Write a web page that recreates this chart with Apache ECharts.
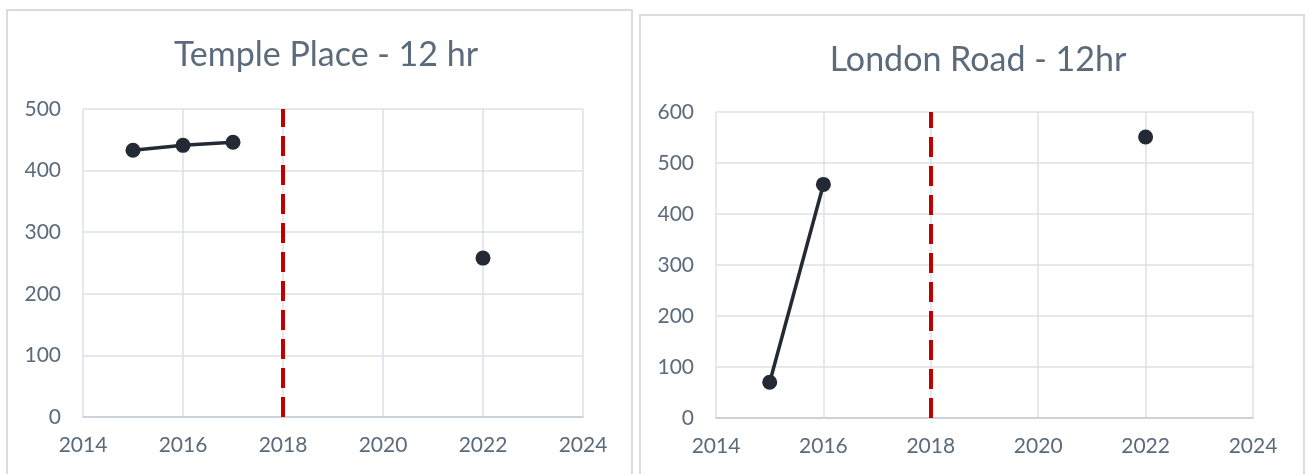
<!DOCTYPE html>
<html>
<head>
<meta charset="utf-8">
<script src="https://cdn.jsdelivr.net/npm/echarts@6/dist/echarts.min.js"></script>
<style>
html,body{margin:0;padding:0;background:#fff;}
#c{width:1309px;height:474px;}
</style>
</head>
<body>
<div id="c"></div>
<script>
// ---- data ----
const titles = ["Temple Place - 12 hr", "London Road - 12hr"];
const templeLineYears = [2015, 2016, 2017];
const templeLineValues = [433, 441, 446];
const templePointYears = [2022];
const templePointValues = [258];
const londonLineYears = [2015, 2016];
const londonLineValues = [70, 458];
const londonPointYears = [2022];
const londonPointValues = [551];
const interventionYear = 2018;
const xTicks = [2014, 2016, 2018, 2020, 2022, 2024];
const templeYMax = 500;
const londonYMax = 600;

const pair = (xs, ys) => xs.map((x, i) => [x, ys[i]]);

const FONT = "Lato, 'Open Sans', sans-serif";
const TXT = "#5b6b7c";
const DOT = "#232a33";

function xAxis(gi) {
  return {
    gridIndex: gi, type: 'value', min: xTicks[0], max: xTicks[xTicks.length - 1], interval: 2,
    axisLine: { show: true, lineStyle: { color: '#c3cad3', width: 1.5 } },
    axisTick: { show: false },
    axisLabel: { color: TXT, fontFamily: FONT, fontSize: 21, margin: 18, formatter: v => String(v) },
    splitLine: { show: true, lineStyle: { color: '#dde1e6', width: 1.5 } }
  };
}
function yAxis(gi, max) {
  return {
    gridIndex: gi, type: 'value', min: 0, max: max, interval: 100,
    axisLine: { show: false }, axisTick: { show: false },
    axisLabel: { color: TXT, fontFamily: FONT, fontSize: 21, margin: 22, formatter: v => String(v) },
    splitLine: { show: true, lineStyle: { color: '#dde1e6', width: 1.5 } }
  };
}
function markLine() {
  return {
    silent: true, symbol: ['none', 'none'], label: { show: false },
    lineStyle: { color: '#c00000', width: 4, type: [20, 9] },
    data: [{ xAxis: interventionYear }]
  };
}
function lineSeries(gi, data, withMark) {
  const s = {
    type: 'line', xAxisIndex: gi, yAxisIndex: gi, data: data,
    symbol: 'circle', symbolSize: 15, z: 5,
    itemStyle: { color: DOT, opacity: 1 }, lineStyle: { color: DOT, width: 3.5 }
  };
  if (withMark) s.markLine = markLine();
  return s;
}
function pointSeries(gi, data) {
  return {
    type: 'scatter', xAxisIndex: gi, yAxisIndex: gi, data: data,
    symbol: 'circle', symbolSize: 15, z: 5, itemStyle: { color: DOT, opacity: 1 }
  };
}

const chart = echarts.init(document.getElementById('c'), null, { renderer: 'canvas' });
chart.setOption({
  animation: false,
  backgroundColor: '#ffffff',
  graphic: [
    { type: 'rect', shape: { x: 7, y: 10, width: 625, height: 480 }, style: { fill: 'none', stroke: '#d9dde2', lineWidth: 2 }, z: -1 },
    { type: 'rect', shape: { x: 640, y: 15, width: 664, height: 480 }, style: { fill: 'none', stroke: '#d9dde2', lineWidth: 2 }, z: -1 }
  ],
  title: [
    { text: titles[0], left: 321, top: 33, textAlign: 'center',
      textStyle: { color: TXT, fontFamily: FONT, fontSize: 34, fontWeight: 'normal' } },
    { text: titles[1], left: 973, top: 38, textAlign: 'center',
      textStyle: { color: TXT, fontFamily: FONT, fontSize: 34, fontWeight: 'normal' } }
  ],
  grid: [
    { left: 83, right: 726, top: 109, bottom: 57 },
    { left: 716, right: 56, top: 112, bottom: 56 }
  ],
  xAxis: [xAxis(0), xAxis(1)],
  yAxis: [yAxis(0, templeYMax), yAxis(1, londonYMax)],
  series: [
    lineSeries(0, pair(templeLineYears, templeLineValues), true),
    pointSeries(0, pair(templePointYears, templePointValues)),
    lineSeries(1, pair(londonLineYears, londonLineValues), true),
    pointSeries(1, pair(londonPointYears, londonPointValues))
  ]
});
</script>
</body>
</html>
